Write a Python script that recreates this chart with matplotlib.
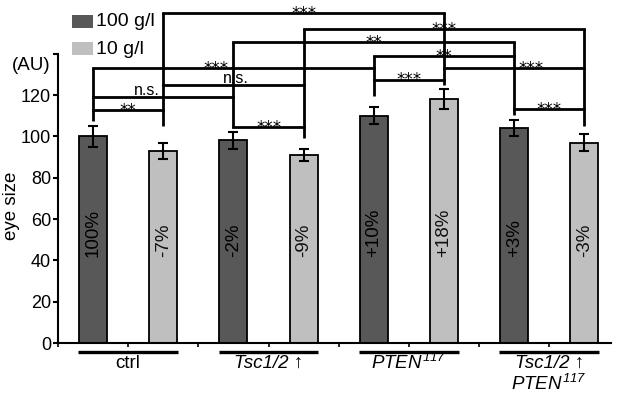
import numpy as np
import matplotlib
matplotlib.use("Agg")
import matplotlib.pyplot as plt
from matplotlib.patches import Rectangle

plt.rcParams['font.family'] = ['Liberation Sans', 'DejaVu Sans']
plt.rcParams['mathtext.fontset'] = 'custom'
plt.rcParams['mathtext.rm'] = 'Liberation Sans:italic'
plt.rcParams['mathtext.it'] = 'Liberation Sans:italic'

# ---- dados ----
grupos = ['ctrl', 'Tsc1/2 ↑', 'PTEN117', 'Tsc1/2 ↑ PTEN117']
series = ['100 g/l', '10 g/l']
valores_100 = [100, 98, 110, 104]
valores_10 = [93, 91, 118, 97]
erros_100 = [5, 4, 4, 4]
erros_10 = [4, 3, 5, 4]
rotulos_100 = ['100%', '-2%', '+10%', '+3%']
rotulos_10 = ['-7%', '-9%', '+18%', '-3%']

# comparacoes: (barra a, barra b, texto) ; barras 0..7 = (grupo, serie) intercaladas
comparacoes = [(1, 5, '***'), (3, 7, '***'), (2, 6, '**'), (4, 6, '**'),
               (0, 4, '***'), (5, 7, '***'), (4, 5, '***'), (1, 3, 'n.s.'),
               (0, 2, 'n.s.'), (0, 1, '**'), (2, 3, '***'), (6, 7, '***')]
niveis = [159.7, 152, 145.7, 138.9, 133.1, 133.1, 127.5, 124.8, 119, 112.8, 104.5, 113.3]
desloc_texto = [0, 0, 0, 0, -0.125, 0.12, 0, 0.015, -0.12, 0, 0, 0]
fundo_linhas = [107.5, 105, 104.5, 99.2, 119.6, 124.9, 110.4, 105]

cor_escura = '#585858'
cor_clara = '#bfbfbf'

fig = plt.figure(figsize=(6.17, 3.96), dpi=100)
ax = fig.add_axes([58 / 617, 53 / 396, 553 / 617, 341 / 396])

x = np.arange(len(grupos))
desl = 0.25
larg = 0.2
ax.bar(x - desl, valores_100, larg, color=cor_escura, edgecolor='black', linewidth=1.3,
       yerr=erros_100, error_kw=dict(ecolor='black', elinewidth=1.5, capsize=3.5, capthick=1.5))
ax.bar(x + desl, valores_10, larg, color=cor_clara, edgecolor='black', linewidth=1.3,
       yerr=erros_10, error_kw=dict(ecolor='black', elinewidth=1.5, capsize=3.5, capthick=1.5))

# porcentagens dentro das barras
for i in range(len(grupos)):
    ax.text(x[i] - desl, 41.5, rotulos_100[i], rotation=90, ha='center', va='bottom',
            fontsize=13.5, color='black')
    ax.text(x[i] + desl, 41.5, rotulos_10[i], rotation=90, ha='center', va='bottom',
            fontsize=13.5, color='#111111')

# posicoes das barras e colchetes de significancia
pos_barras = []
for i in range(len(grupos)):
    pos_barras += [x[i] - desl, x[i] + desl]

lw_col = 2.0
topo = [None] * 8
for (a, b, txt), nv in zip(comparacoes, niveis):
    for k in (a, b):
        topo[k] = nv if topo[k] is None else max(topo[k], nv)
for k in range(8):
    ax.plot([pos_barras[k], pos_barras[k]], [fundo_linhas[k], topo[k]], color='black',
            lw=lw_col, solid_capstyle='butt', clip_on=False)
for (a, b, txt), nv, dx in zip(comparacoes, niveis, desloc_texto):
    xa, xb = pos_barras[a], pos_barras[b]
    ax.plot([xa, xb], [nv, nv], color='black', lw=lw_col, solid_capstyle='projecting', clip_on=False)
    xm = (xa + xb) / 2 + dx
    if txt == 'n.s.':
        ax.annotate(txt, (xm, nv), xytext=(0, 1.5), textcoords='offset points',
                    ha='center', va='baseline', fontsize=11.5, annotation_clip=False)
    else:
        ax.annotate(txt, (xm, nv), xytext=(0, -4.3), textcoords='offset points',
                    ha='center', va='baseline', fontsize=12, family='DejaVu Sans',
                    annotation_clip=False)

# eixos
ax.set_xlim(-0.5, 3.44)
ax.set_ylim(0, 165)
ax.spines['top'].set_visible(False)
ax.spines['right'].set_visible(False)
ax.spines['left'].set_bounds(0, 140)
ax.spines['left'].set_linewidth(1.5)
ax.spines['bottom'].set_linewidth(1.5)
ax.set_yticks([0, 20, 40, 60, 80, 100, 120, 140])
ax.set_yticklabels(['0', '20', '40', '60', '80', '100', '120', ''])
ax.tick_params(axis='y', length=3.5, width=1.5, pad=1.5, labelsize=13)
ax.set_xticks(np.arange(-0.5, 3.5, 0.5))
ax.set_xticklabels([])
ax.tick_params(axis='x', length=3, width=1.2)

# linhas e nomes dos grupos
for i in range(len(grupos)):
    ax.plot([x[i] - desl - larg / 2 - 0.005, x[i] + desl + larg / 2 + 0.005], [-4.4, -4.4],
            color='black', lw=2.4, clip_on=False, solid_capstyle='butt')
ax.text(x[0], -9.8, 'ctrl', ha='center', va='center', fontsize=13.5)
ax.text(x[1], -9.8, 'Tsc1/2 ↑', ha='center', va='center', fontsize=13.5, style='italic')
ax.text(x[2], -9.8, r'$PTEN^{117}$', ha='center', va='center', fontsize=13.5)
ax.text(x[3], -9.8, 'Tsc1/2 ↑', ha='center', va='center', fontsize=13.5, style='italic')
ax.text(x[3], -19.6, r'$PTEN^{117}$', ha='center', va='center', fontsize=13.5)

# legenda, rotulo do eixo y e unidade
fig.text(12 / 617, 1 - 206 / 396, 'eye size', rotation=90, ha='center', va='center', fontsize=13.5)
fig.text(31 / 617, 1 - 66 / 396, '(AU)', ha='center', va='center', fontsize=13.5)
fig.patches.append(Rectangle((72 / 617, 1 - 28 / 396), 21 / 617, 13 / 396,
                             transform=fig.transFigure, facecolor=cor_escura, edgecolor='none'))
fig.patches.append(Rectangle((72 / 617, 1 - 55 / 396), 21 / 617, 13 / 396,
                             transform=fig.transFigure, facecolor=cor_clara, edgecolor='none'))
fig.text(96 / 617, 1 - 21 / 396, series[0], ha='left', va='center', fontsize=14)
fig.text(96 / 617, 1 - 49 / 396, series[1], ha='left', va='center', fontsize=14)

fig.savefig('out.png', dpi=100)
